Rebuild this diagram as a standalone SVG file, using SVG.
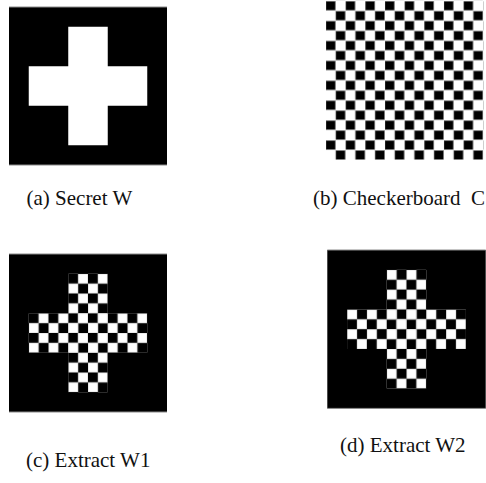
<svg xmlns="http://www.w3.org/2000/svg" width="486" height="483" viewBox="0 0 486 483">
<style>
.bg{fill:#ffffff}
.blk{fill:#000000}
.wht{fill:#ffffff}
.edge{stroke:#8a8a8a;stroke-width:1}
.cap{font-family:'Liberation Serif','DejaVu Serif',serif;font-size:21px;fill:#111111;white-space:pre}
</style>
<defs>
<pattern id="chkB" patternUnits="userSpaceOnUse" x="326" y="0.8" width="19.66" height="19.9">
<rect x="0" y="0.5" width="9.4" height="8.9" fill="#000" stroke="#777" stroke-width="0.5"/>
<rect x="9.83" y="10.45" width="9.4" height="8.9" fill="#000" stroke="#777" stroke-width="0.5"/>
</pattern>
<pattern id="chkC" patternUnits="userSpaceOnUse" x="9" y="254" width="19.75" height="19.75">
<rect x="9.875" y="0" width="9.875" height="9.875" fill="#fff" stroke="#999" stroke-width="0.4"/>
<rect x="0" y="9.875" width="9.875" height="9.875" fill="#fff" stroke="#999" stroke-width="0.4"/>
</pattern>
<pattern id="chkD" patternUnits="userSpaceOnUse" x="327.3" y="250" width="19.8" height="19.8">
<rect x="0" y="0" width="9.9" height="9.9" fill="#fff" stroke="#999" stroke-width="0.4"/>
<rect x="9.9" y="9.9" width="9.9" height="9.9" fill="#fff" stroke="#999" stroke-width="0.4"/>
</pattern>
</defs>
<rect class="bg" x="0" y="0" width="486" height="483"/>

<g id="panel-a">
<rect class="blk" x="9" y="7" width="158" height="158"/>
<line class="edge" x1="9" y1="7" x2="167" y2="7"/>
<line class="edge" x1="9" y1="165" x2="167" y2="165"/>
<rect class="wht" x="68.25" y="26.75" width="39.5" height="118.5"/>
<rect class="wht" x="28.75" y="66.25" width="118.5" height="39.5"/>
<text class="cap" font-family="Liberation Serif, DejaVu Serif, serif" x="26.5" y="204.5">(a) Secret W</text>
</g>

<g id="panel-b">
<rect x="326" y="0.8" width="157.3" height="159.2" fill="url(#chkB)"/>
<text class="cap" font-family="Liberation Serif, DejaVu Serif, serif" x="313" y="204.5" xml:space="preserve">(b) Checkerboard  C</text>
</g>

<g id="panel-c">
<rect class="blk" x="9" y="254" width="158" height="158"/>
<line class="edge" x1="9" y1="254" x2="167" y2="254"/>
<line class="edge" x1="9" y1="412" x2="167" y2="412"/>
<rect x="68.25" y="273.75" width="39.5" height="118.5" fill="url(#chkC)"/>
<rect x="28.75" y="313.25" width="118.5" height="39.5" fill="url(#chkC)"/>
<text class="cap" font-family="Liberation Serif, DejaVu Serif, serif" x="26" y="466.5">(c) Extract W1</text>
</g>

<g id="panel-d">
<rect class="blk" x="327.3" y="250" width="158.4" height="158.4"/>
<line class="edge" x1="327.3" y1="250" x2="485.7" y2="250"/>
<line class="edge" x1="327.3" y1="408.4" x2="485.7" y2="408.4"/>
<rect x="386.7" y="269.8" width="39.6" height="118.8" fill="url(#chkD)"/>
<rect x="347.1" y="309.4" width="118.8" height="39.6" fill="url(#chkD)"/>
<text class="cap" font-family="Liberation Serif, DejaVu Serif, serif" x="340" y="452">(d) Extract W2</text>
</g>

<g id="connectors"></g>
</svg>
